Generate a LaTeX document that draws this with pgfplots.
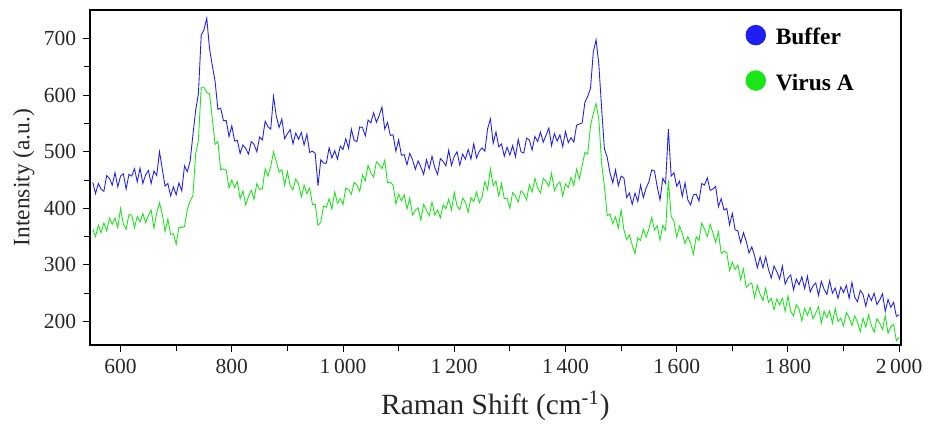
\documentclass[border=0pt]{standalone}
\usepackage{pgfplots}
\pgfplotsset{compat=1.18}
\usepackage{fontspec}
\setmainfont{Liberation Serif}
\definecolor{bufblue}{rgb}{0.12,0.12,0.95}
\definecolor{virgreen}{rgb}{0.1,0.9,0.1}
\begin{document}
\begin{tikzpicture}
\begin{axis}[
  scale only axis, width=414.5pt, height=171.5pt,
  xmin=545, xmax=2003, ymin=158, ymax=751,
  xtick={600,800,...,2000}, minor x tick num=1,
  ytick={200,300,...,700}, minor y tick num=1,
  tick pos=left, tick align=outside,
  major tick length=3.5pt, minor tick length=3pt,
  every tick/.style={black, line width=0.5pt},
  axis line style={line width=0.9pt},
  /pgf/number format/assume math mode=true,
  /pgf/number format/1000 sep={\,},
  ticklabel style={font=\fontsize{11}{12}\selectfont, text=black!85},
  xlabel={Raman Shift (cm\textsuperscript{-1})},
  ylabel={Intensity (a.u.)},
  xlabel style={font=\fontsize{15}{16}\selectfont, text=black!85, yshift=-2pt},
  ylabel style={font=\fontsize{12}{13}\selectfont, text=black!85, yshift=-2pt},
  legend image code/.code={\fill (5pt,1.5pt) circle (5pt); \path (14pt,0pt);},
  legend style={at={(rel axis cs:0.808,0.956)}, anchor=north west, draw=none, fill=none,
    inner sep=0pt, row sep=10.5pt, font=\bfseries\fontsize{12}{13}\selectfont,
    nodes={inner sep=1pt}},
  legend cell align=left,
]
\addplot[color=bufblue, line width=0.45pt] coordinates {
(550,446)(555,426)(560,444)(565,434)(570,430)(575,458)(580,453)(585,441)(590,463)(595,438)
(600,457)(605,461)(610,434)(615,460)(620,457)(625,470)(630,447)(635,471)(640,444)(645,459)
(650,467)(655,444)(660,466)(665,458)(670,500)(675,470)(680,439)(685,444)(690,422)(695,438)
(700,424)(705,445)(710,431)(715,475)(720,465)(725,483)(730,529)(735,573)(740,603)(745,706)
(750,716)(755,736)(760,682)(765,652)(770,624)(775,575)(780,577)(785,555)(790,555)(795,527)
(800,546)(805,519)(810,520)(815,497)(820,512)(825,506)(830,496)(835,518)(840,513)(845,500)
(850,526)(855,521)(860,554)(865,544)(870,540)(875,598)(880,563)(885,543)(890,558)(895,523)
(900,532)(905,539)(910,514)(915,533)(920,522)(925,534)(930,512)(935,531)(940,499)(945,501)
(950,497)(955,440)(960,486)(965,480)(970,480)(975,507)(980,489)(985,502)(990,487)(995,510)
(1000,504)(1005,523)(1010,506)(1015,540)(1020,520)(1025,518)(1030,544)(1035,543)(1040,528)(1045,556)
(1050,551)(1055,569)(1060,552)(1065,564)(1070,579)(1075,540)(1080,552)(1085,529)(1090,530)(1095,501)
(1100,521)(1105,494)(1110,495)(1115,477)(1120,497)(1125,486)(1130,469)(1135,484)(1140,473)(1145,460)
(1150,486)(1155,470)(1160,492)(1165,472)(1170,460)(1175,488)(1180,483)(1185,475)(1190,503)(1195,476)
(1200,492)(1205,500)(1210,476)(1215,496)(1220,487)(1225,504)(1230,487)(1235,514)(1240,489)(1245,501)
(1250,507)(1255,501)(1260,541)(1265,558)(1270,515)(1275,535)(1280,509)(1285,514)(1290,492)(1295,508)
(1300,494)(1305,511)(1310,491)(1315,522)(1320,500)(1325,498)(1330,524)(1335,521)(1340,503)(1345,527)
(1350,518)(1355,535)(1360,517)(1365,529)(1370,542)(1375,511)(1380,532)(1385,519)(1390,530)(1395,509)
(1400,536)(1405,516)(1410,525)(1415,517)(1420,547)(1425,549)(1430,551)(1435,588)(1440,598)(1445,612)
(1450,676)(1455,698)(1460,654)(1465,576)(1470,505)(1475,490)(1480,463)(1485,445)(1490,468)(1495,440)
(1500,457)(1505,454)(1510,419)(1515,427)(1520,407)(1525,427)(1530,412)(1535,441)(1540,419)(1545,436)
(1550,447)(1555,468)(1560,466)(1565,438)(1570,415)(1575,453)(1580,444)(1585,540)(1590,457)(1595,463)
(1600,439)(1605,448)(1610,421)(1615,445)(1620,415)(1625,406)(1630,424)(1635,425)(1640,413)(1645,444)
(1650,441)(1655,454)(1660,432)(1665,434)(1670,439)(1675,403)(1680,417)(1685,397)(1690,400)(1695,371)
(1700,391)(1705,362)(1710,360)(1715,339)(1720,357)(1725,342)(1730,321)(1735,332)(1740,316)(1745,295)
(1750,314)(1755,295)(1760,314)(1765,292)(1770,277)(1775,298)(1780,288)(1785,275)(1790,298)(1795,266)
(1800,277)(1805,282)(1810,256)(1815,275)(1820,265)(1825,279)(1830,258)(1835,280)(1840,252)(1845,263)
(1850,268)(1855,246)(1860,271)(1865,257)(1870,248)(1875,272)(1880,250)(1885,259)(1890,241)(1895,261)
(1900,251)(1905,264)(1910,241)(1915,269)(1920,243)(1925,235)(1930,255)(1935,248)(1940,227)(1945,248)
(1950,237)(1955,250)(1960,230)(1965,238)(1970,249)(1975,218)(1980,239)(1985,225)(1990,234)(1995,209)
(2000,212)
};
\addlegendentry{Buffer}
\addplot[color=virgreen, line width=0.45pt] coordinates {
(550,363)(555,350)(560,370)(565,357)(570,374)(575,360)(580,383)(585,372)(590,383)(595,366)
(600,400)(605,372)(610,363)(615,389)(620,388)(625,366)(630,386)(635,376)(640,391)(645,375)
(650,387)(655,397)(660,365)(665,392)(670,410)(675,390)(680,359)(685,381)(690,354)(695,355)
(700,337)(705,367)(710,366)(715,368)(720,398)(725,413)(730,422)(735,496)(740,521)(745,614)
(750,614)(755,605)(760,602)(765,558)(770,513)(775,518)(780,468)(785,470)(790,467)(795,436)
(800,450)(805,437)(810,447)(815,417)(820,431)(825,406)(830,421)(835,432)(840,416)(845,444)
(850,433)(855,435)(860,470)(865,457)(870,474)(875,500)(880,483)(885,464)(890,468)(895,441)
(900,465)(905,440)(910,433)(915,452)(920,443)(925,420)(930,441)(935,426)(940,436)(945,407)
(950,407)(955,370)(960,375)(965,404)(970,402)(975,417)(980,399)(985,429)(990,409)(995,417)
(1000,407)(1005,436)(1010,433)(1015,425)(1020,446)(1025,441)(1030,430)(1035,459)(1040,449)(1045,476)
(1050,463)(1055,455)(1060,482)(1065,477)(1070,470)(1075,485)(1080,445)(1085,446)(1090,441)(1095,408)
(1100,425)(1105,413)(1110,424)(1115,399)(1120,418)(1125,388)(1130,397)(1135,401)(1140,379)(1145,407)
(1150,396)(1155,387)(1160,411)(1165,388)(1170,397)(1175,383)(1180,406)(1185,399)(1190,416)(1195,397)
(1200,428)(1205,404)(1210,398)(1215,418)(1220,411)(1225,393)(1230,419)(1235,412)(1240,429)(1245,410)
(1250,420)(1255,447)(1260,433)(1265,470)(1270,440)(1275,448)(1280,422)(1285,444)(1290,417)(1295,418)
(1300,400)(1305,428)(1310,422)(1315,411)(1320,431)(1325,426)(1330,415)(1335,442)(1340,429)(1345,453)
(1350,436)(1355,427)(1360,453)(1365,448)(1370,439)(1375,462)(1380,431)(1385,442)(1390,447)(1395,422)
(1400,443)(1405,437)(1410,455)(1415,440)(1420,469)(1425,452)(1430,476)(1435,499)(1440,496)(1445,546)
(1450,568)(1455,585)(1460,557)(1465,479)(1470,439)(1475,387)(1480,390)(1485,373)(1490,385)(1495,365)
(1500,397)(1505,362)(1510,345)(1515,353)(1520,335)(1525,320)(1530,348)(1535,343)(1540,363)(1545,349)
(1550,364)(1555,384)(1560,362)(1565,369)(1570,344)(1575,370)(1580,361)(1585,450)(1590,386)(1595,377)
(1600,349)(1605,369)(1610,356)(1615,338)(1620,350)(1625,338)(1630,319)(1635,350)(1640,343)(1645,374)
(1650,363)(1655,350)(1660,372)(1665,357)(1670,340)(1675,358)(1680,320)(1685,324)(1690,322)(1695,290)
(1700,305)(1705,292)(1710,300)(1715,274)(1720,293)(1725,260)(1730,266)(1735,268)(1740,242)(1745,264)
(1750,248)(1755,237)(1760,259)(1765,234)(1770,241)(1775,221)(1780,240)(1785,229)(1790,241)(1795,218)
(1800,245)(1805,218)(1810,210)(1815,230)(1820,222)(1825,201)(1830,223)(1835,211)(1840,225)(1845,205)
(1850,215)(1855,226)(1860,197)(1865,218)(1870,207)(1875,219)(1880,197)(1885,223)(1890,200)(1895,206)
(1900,192)(1905,216)(1910,207)(1915,193)(1920,210)(1925,199)(1930,182)(1935,206)(1940,190)(1945,212)
(1950,193)(1955,181)(1960,205)(1965,197)(1970,186)(1975,210)(1980,179)(1985,191)(1990,195)(1995,166)
(2000,172)
};
\addlegendentry{Virus A}
\end{axis}
\path (current axis.south west) +(-46pt,-35.5pt);
\path (current axis.north east) +(4pt,5pt);
\end{tikzpicture}
\end{document}
